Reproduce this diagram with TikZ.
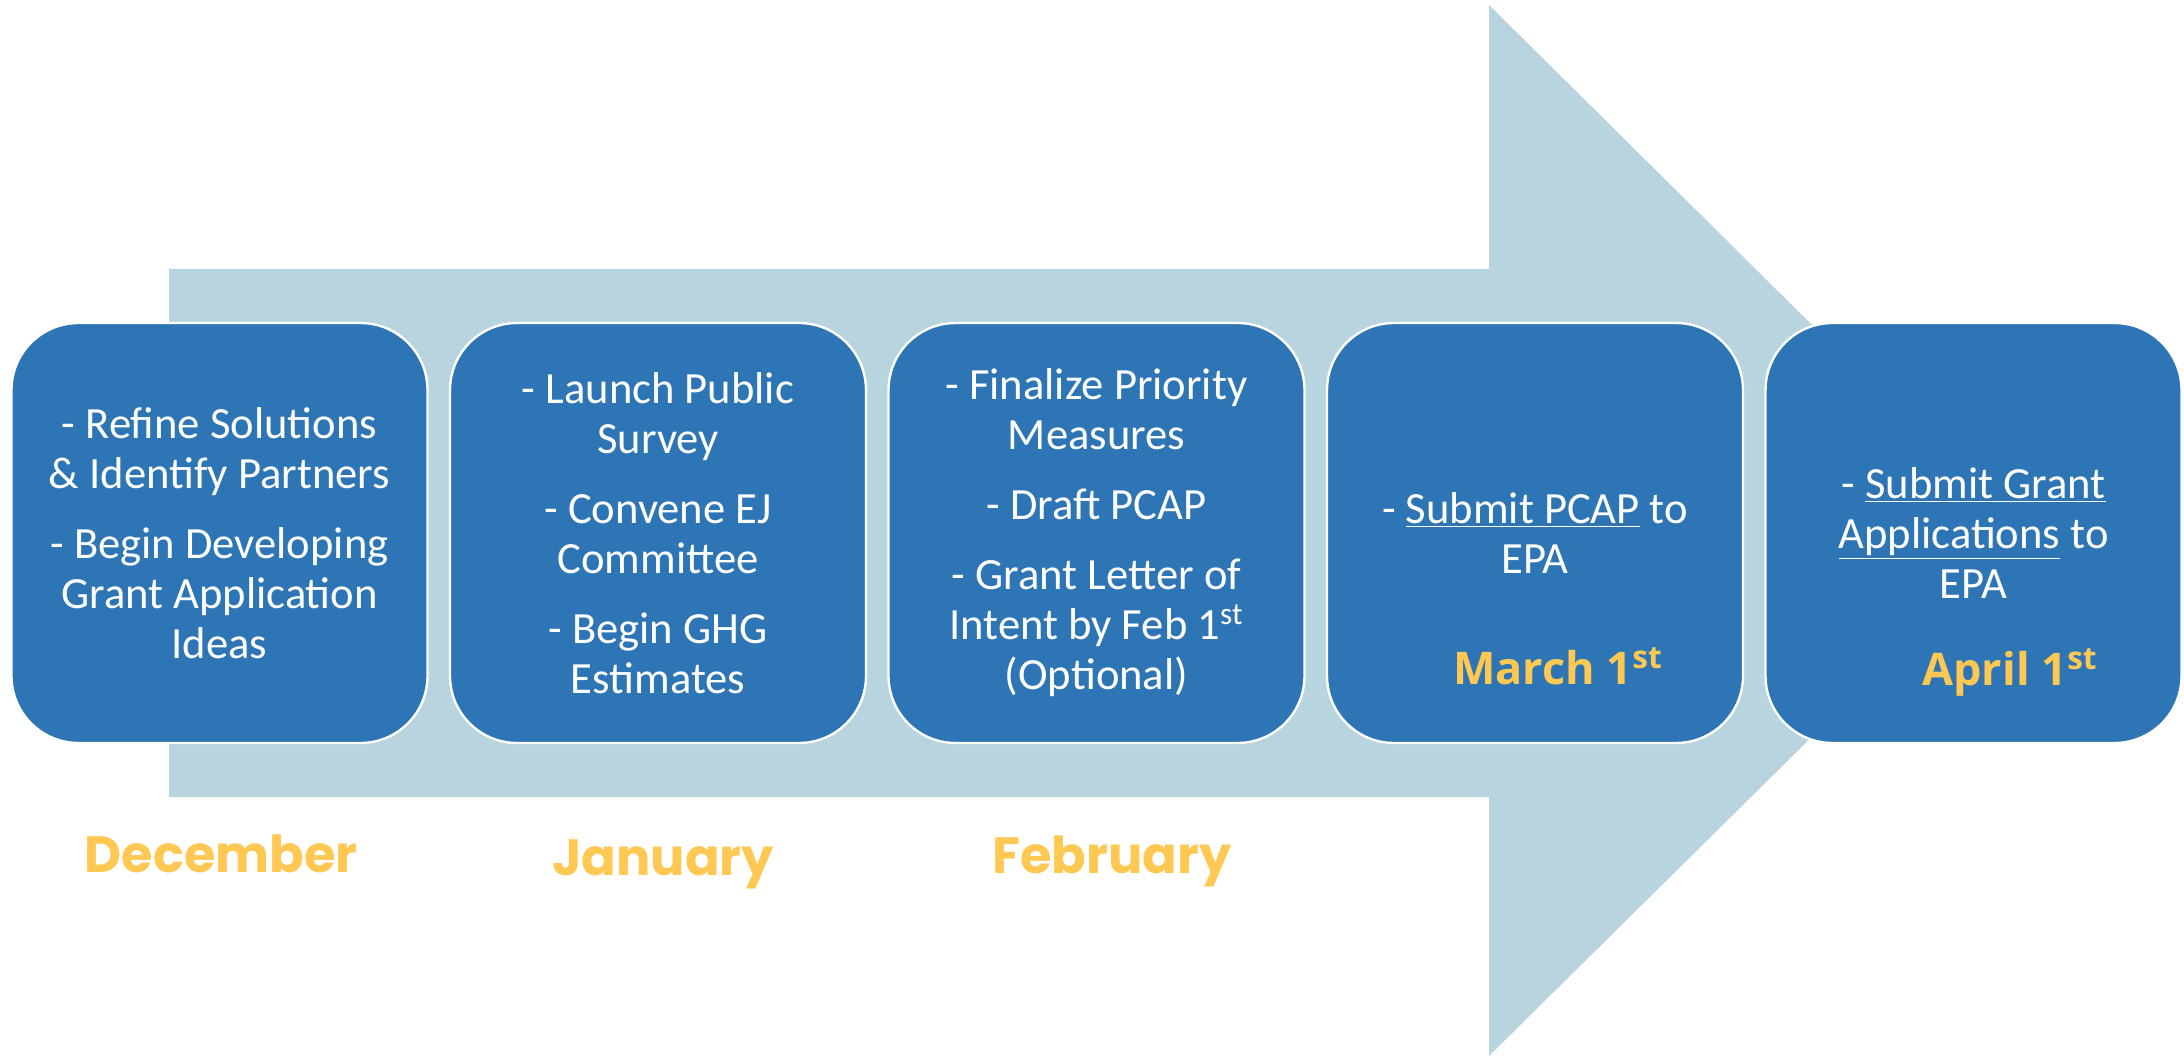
\documentclass[tikz,border=0pt]{standalone}
\usepackage{fontspec}
\setmainfont{Carlito}
\newfontfamily\monthfont{Poppins}
\newfontfamily\datefont{Open Sans}
\definecolor{arrowblue}{HTML}{B7D4DF}
\definecolor{boxblue}{HTML}{2E75B6}
\definecolor{gold}{HTML}{FFC852}
\begin{document}
\begin{tikzpicture}[x=0.5pt,y=-0.5pt,
  boxstyle/.style={draw=white, line width=1.2pt, fill=boxblue, rounded corners=33.5pt,
    minimum width=208pt, minimum height=210pt, inner sep=0pt, align=center,
    text=white, font=\fontsize{22.3}{25}\selectfont},
  monthstyle/.style={anchor=base, text=gold, font=\monthfont\bfseries\fontsize{25.5}{30}\selectfont},
  datestyle/.style={anchor=base, text=gold, font=\datefont\bfseries\fontsize{22.5}{26}\selectfont}]
\fill[white] (0,0) rectangle (2184,1059);
\useasboundingbox (0,0) rectangle (2184,1059);
% big arrow
\fill[arrowblue] (169,269) -- (1489,269) -- (1489,5) -- (2020,531) -- (1489,1056)
  -- (1489,797) -- (169,797) -- cycle;
% boxes
\node[boxstyle] (b1) at (219.5,533) {- Refine Solutions\\ \& Identify Partners\\[10pt]
  - Begin Developing\\ Grant Application\\ Ideas};
\node[boxstyle] (b2) at (658,533) {- Launch Public\\ Survey\\[10pt] - Convene EJ\\ Committee\\[10pt]
  - Begin GHG\\ Estimates};
\node[boxstyle] (b3) at (1096.5,533) {- Finalize Priority\\ Measures\\[10pt] - Draft PCAP\\[10pt]
  - Grant Letter of\\ Intent by Feb 1\textsuperscript{st}\\ (Optional)};
\node[boxstyle] (b4) at (1535,533) {- \underline{Submit PCAP} to\\ EPA};
\node[boxstyle] (b5) at (1973.5,533) {- \underline{Submit Grant}\\ \underline{Applications} to\\ EPA};
% dates
\node[datestyle] (d4) at (1558,684) {March 1\textsuperscript{st}};
\node[datestyle] (d5) at (2010,685) {April 1\textsuperscript{st}};
% months
\node[monthstyle] (m1) at (221,872) {December};
\node[monthstyle] (m2) at (663,875) {January};
\node[monthstyle] (m3) at (1112,873) {February};
\end{tikzpicture}
\end{document}
